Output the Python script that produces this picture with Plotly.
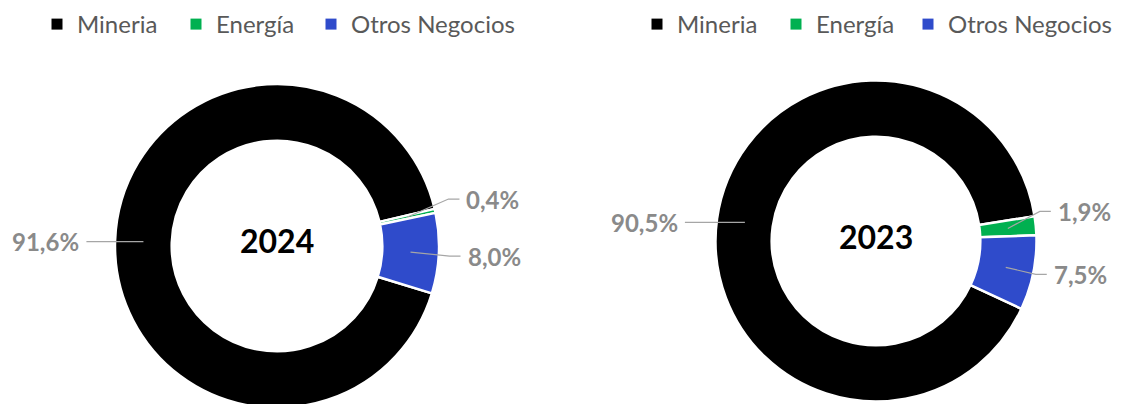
import math
import plotly.graph_objects as go

# ---- data ----
categories = ["Mineria", "Energía", "Otros Negocios"]
values_2024 = [91.6, 0.4, 8.0]
values_2023 = [90.5, 1.9, 7.5]
years = ["2024", "2023"]
colors = ["#000000", "#00B050", "#2F4BCB"]

# ---- layout constants ----
W, H = 1160, 404
OFF = 8            # page body margin: screen px = figure px + OFF
HOLE = 0.65
FONT = "Lato"

def fx(sx):  # screen x -> paper x
    return (sx - OFF) / W

def fy(sy):  # screen y -> paper y
    return 1 - (sy - OFF) / H

# donut centre (screen px) and outer radius
centres = [(277, 246, 162), (876, 241, 160.5)]
domains = []
for (sx, sy, rr) in centres:
    domains.append(dict(x=[fx(sx - rr - 40), fx(sx + rr + 40)],
                        y=[fy(sy + rr), fy(sy - rr)]))
rotations = [107, 115]
# label offsets (px) from the slice anchor point to the end of the leader line
label_offsets = [
    [(-57, 0), (52, -18), (50, 4)],
    [(-60, 0), (43, -17), (41, 7)],
]
# legend marker centres (screen px), one row above each donut
legend_marker_x = [[59, 198, 333], [659, 798, 930]]
LEGEND_Y = 24.5

fig = go.Figure()
shapes = []
annotations = []
legends = {}

for k, (vals, year) in enumerate(zip([values_2024, values_2023], years)):
    dom = domains[k]
    fig.add_trace(go.Pie(
        labels=categories, values=vals, hole=HOLE, sort=False,
        direction="clockwise", rotation=rotations[k],
        marker=dict(colors=colors, line=dict(color="white", width=2.5)),
        textinfo="none", hoverinfo="label+percent",
        domain=dom, showlegend=False, name=year,
    ))
    # legend entries (one legend per entry so spacing matches the reference)
    for i, (cat, col) in enumerate(zip(categories, colors)):
        n = k * 3 + i + 1
        lid = "legend" if n == 1 else "legend%d" % n
        fig.add_trace(go.Scatter(
            x=[None], y=[None], mode="markers", name=cat,
            marker=dict(symbol="square", size=11, color=col),
            legend=lid, showlegend=True, hoverinfo="skip",
        ))
        legends[lid] = dict(
            x=fx(legend_marker_x[k][i] - 22), y=fy(LEGEND_Y),
            xanchor="left", yanchor="middle", orientation="h",
            font=dict(family=FONT, size=24, color="#595959"),
            bgcolor="rgba(0,0,0,0)",
        )
    # geometry as computed by plotly (in screen px)
    wpx = W * (dom["x"][1] - dom["x"][0])
    hpx = H * (dom["y"][1] - dom["y"][0])
    r = min(wpx, hpx) / 2
    cx = W * (dom["x"][0] + dom["x"][1]) / 2 + OFF
    cy = H * (1 - dom["y"][0]) - hpx / 2 + OFF
    rmid = r * (1 + HOLE) / 2
    total = sum(vals)
    cum = 0.0
    for i, v in enumerate(vals):
        theta = math.radians(rotations[k] + (cum + v / 2) / total * 360)
        cum += v
        px = cx + rmid * math.sin(theta)
        py = cy - rmid * math.cos(theta)
        dx, dy = label_offsets[k][i]
        ex, ey = px + dx, py + dy
        sgn = 1 if dx > 0 else -1
        elx = ex - 11 * sgn
        path = "M {} {} L {} {} L {} {}".format(
            fx(px), fy(py), fx(elx), fy(ey), fx(ex), fy(ey))
        shapes.append(dict(type="path", path=path, xref="paper", yref="paper",
                           line=dict(color="#A6A6A6", width=1.2)))
        txt = "{:.1f}".format(v).replace(".", ",") + "%"
        annotations.append(dict(
            x=fx(ex + 5 * sgn), y=fy(ey), xref="paper", yref="paper",
            text=txt, showarrow=False,
            xanchor="left" if sgn > 0 else "right", yanchor="middle",
            font=dict(family=FONT, size=24, color="#8A8A8A", weight="bold"),
        ))
    annotations.append(dict(
        x=fx(cx), y=fy(cy - 5), xref="paper", yref="paper", text="<b>" + year + "</b>",
        showarrow=False, xanchor="center", yanchor="middle",
        font=dict(family=FONT, size=32, color="#000000"),
    ))

fig.update_layout(
    width=W, height=H, autosize=False,
    margin=dict(l=0, r=0, t=0, b=0, autoexpand=False),
    paper_bgcolor="white", plot_bgcolor="white",
    xaxis=dict(visible=False), yaxis=dict(visible=False),
    shapes=shapes, annotations=annotations,
    font=dict(family=FONT),
    **legends,
)

fig.write_html("out.html")
